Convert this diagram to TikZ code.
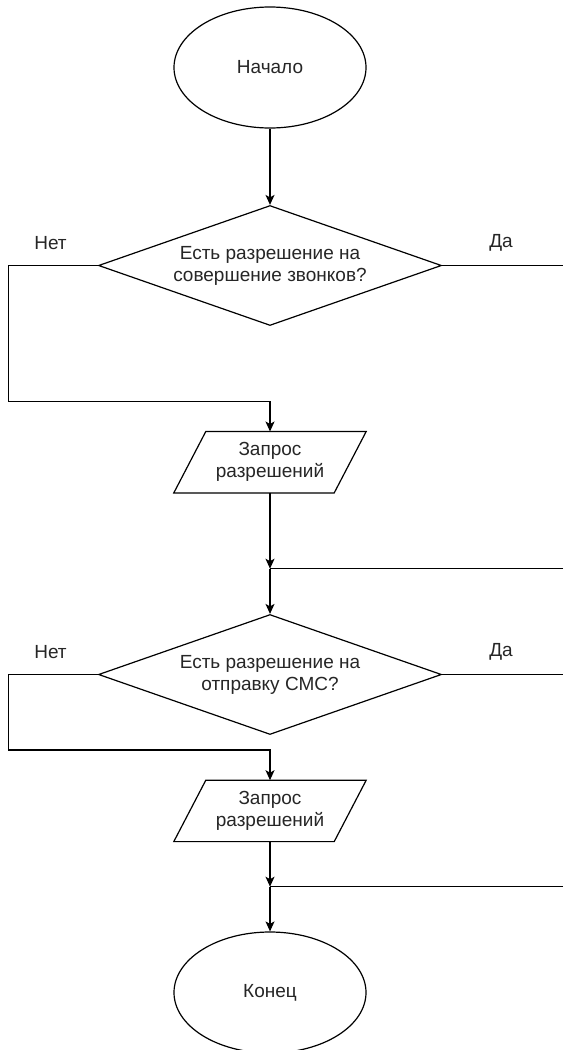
\documentclass[tikz,border=0pt]{standalone}
\usepackage{fontspec}
\setmainfont{Liberation Sans}
\usetikzlibrary{shapes.geometric,arrows.meta}
\begin{document}
\begin{tikzpicture}[x=1pt,y=-1pt,
  every node/.style={font=\fontsize{19}{22}\selectfont, text=black!85},
  base/.style={draw=black, line width=1.2pt},
  terminal/.style={base, ellipse, minimum width=192pt, minimum height=121pt, inner sep=0pt},
  decision/.style={base, diamond, aspect=2.86, minimum width=343pt, minimum height=120pt, inner sep=0pt, align=center},
  io/.style={minimum width=192pt, minimum height=61pt, inner sep=0pt, align=center},
  para/.style={line width=1.2pt, line join=miter},
  flow/.style={line width=1.2pt, -{Stealth[length=10pt,width=9pt,inset=2.5pt]}},
  plain/.style={line width=1.2pt}
]
\useasboundingbox[fill=white] (0,0) rectangle (563,1050);

% nodes
\node[terminal] (start) at (270,67.5) {Начало};
\node[decision] (d1) at (270,265.5) {Есть разрешение на\\совершение звонков?};
\node (no1) at (50.5,243) {Нет};
\node (yes1) at (501,243) {Да};
\node[io] (p1) at (270,462.2) {Запрос\\разрешений};
\node[decision] (d2) at (270,674.5) {Есть разрешение на\\отправку СМС?};
\node (no2) at (50.5,651.7) {Нет};
\node (yes2) at (501,651.7) {Да};
\node[io] (p2) at (270,810.9) {Запрос\\разрешений};
\node[terminal] (end) at (270,992.5) {Конец};

% parallelogram outlines
\draw[para] ([xshift=32pt]p1.north west) -- (p1.north east) -- ([xshift=-32pt]p1.south east) -- (p1.south west) -- cycle;
\draw[para] ([xshift=32pt]p2.north west) -- (p2.north east) -- ([xshift=-32pt]p2.south east) -- (p2.south west) -- cycle;

% helper coordinates
\coordinate (n1c) at (8.6,401.7);
\coordinate (y1e) at (563,265.5);
\coordinate (j1) at (270,568.7);
\coordinate (r1) at (563,568.7);
\coordinate (n2c) at (8.6,750);
\coordinate (y2e) at (563,674.5);
\coordinate (j2) at (270,886.7);
\coordinate (r2) at (563,886.7);

% connectors
\draw[flow] (start.south) -- (d1.north);
\draw[flow] (d1.west) -| (n1c) -| (p1.north);
\draw[plain] (d1.east) -- (y1e);
\draw[flow] (p1.south) -- (j1);
\draw[plain] (r1) -- (j1);
\draw[flow] (j1) -- (d2.north);
\draw[flow] (d2.west) -| (n2c) -| (p2.north);
\draw[plain] (d2.east) -- (y2e);
\draw[flow] (p2.south) -- (j2);
\draw[plain] (r2) -- (j2);
\draw[flow] (j2) -- (end.north);
\end{tikzpicture}
\end{document}
